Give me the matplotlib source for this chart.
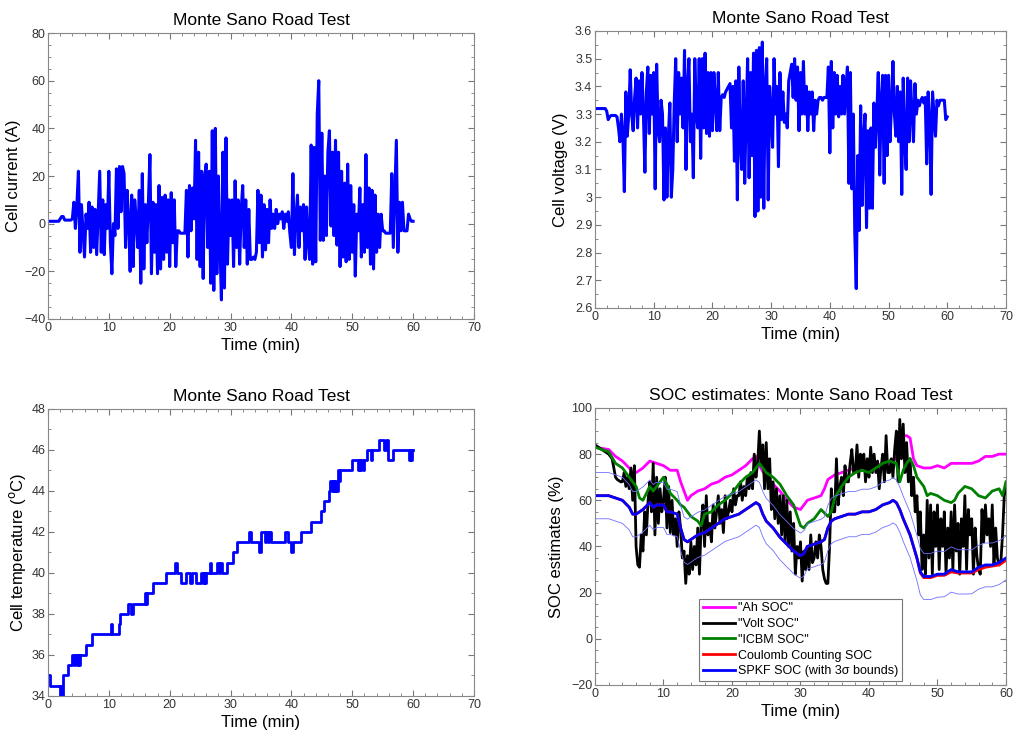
import numpy as np
import matplotlib
matplotlib.use("Agg")
import matplotlib.pyplot as plt
from matplotlib.ticker import MultipleLocator

plt.rcParams['font.family'] = ['Liberation Sans', 'DejaVu Sans']

# cell current (A), sampled every 0.25 min from 0 to 60
current = [1, 1, 1, 1, 1, 1, 1, 1, 2, 3, 3, 1.5, 1.5, 1.5, 1.5, 1.5,
           2, 9, -2, 8, 22, -12, 8, -3, -14, 4, -2, 9, -12, 7, -10, 6,
           -13, 5, 22, -12, 10, -13, 8, -2, 22, -8, -21, 0, -5, 23, -2, 24,
           5, 24, 21, -10, 14, 2, -20, 12, -18, 10, 2, -10, 14, -25, 21, -19,
           8, -8, 9, 29, -21, 9, -12, 8, -21, 16, -19, 11, -15, 12, -12, 10,
           -18, 13, -8, 10, -18, -3, -3, -4, -4, -4, -4, 14, -14, 16, -3, 15,
           2, 35, -15, 30, -18, 22, -23, 20, 25, -10, 22, -25, 39, -28, 40, -21,
           20, -8, -32, 30, -27, 36, -17, 10, -5, 10, -18, 18, -10, 10, -17, 6,
           16, -10, 10, -17, 6, -15, -15, -14, -15, -12, 14, -8, 12, -14, 8, -11,
           6, -8, 10, -2, 4, -2, 6, 0, 4, 2, 5, -2, 4, 1, 5, -4,
           -10, 21, -13, 2, 12, -10, 7, -3, 8, -15, 7, -8, -15, 33, -17, 32,
           -16, 46, 60, -7, 38, -7, 20, -5, 30, 39, -1, 30, -5, 35, -9, 30,
           -18, 22, -14, 17, -16, 25, -15, 16, -12, 8, -22, 4, -3, 15, -14, 8,
           -12, 29, -10, 15, -17, 14, -19, 12, -12, 4, -10, 4, -3, -3, -4, -4,
           -4, -4, 21, -10, 12, 35, -12, 9, -3, 9, -3, -3, -3, 4, 2, 1, 1]

# cell voltage (V), same sampling
voltage = [3.32, 3.32, 3.32, 3.32, 3.32, 3.32, 3.32, 3.32, 3.31, 3.28, 3.29, 3.295, 3.295, 3.295, 3.295, 3.29,
           3.25, 3.2, 3.3, 3.22, 3.02, 3.38, 3.22, 3.3, 3.46, 3.3, 3.24, 3.36, 3.43, 3.25, 3.42, 3.3,
           3.45, 3.3, 3.09, 3.38, 3.47, 3.23, 3.44, 3.3, 3.45, 3.03, 3.48, 3.25, 3.2, 3.35, 3.3, 2.99,
           3.25, 3.0, 3.22, 3.34, 3.0, 3.1, 3.34, 3.5, 3.2, 3.45, 3.3, 3.43, 3.25, 3.53, 3.1, 3.4,
           3.5, 3.2, 3.3, 3.07, 3.5, 3.3, 3.25, 3.5, 3.14, 3.5, 3.25, 3.52, 3.23, 3.45, 3.22, 3.45,
           3.24, 3.45, 3.35, 3.24, 3.45, 3.24, 3.36, 3.37, 3.36, 3.38, 3.39, 3.4, 3.41, 3.25, 3.4, 3.13,
           3.42, 2.99, 3.47, 3.2, 3.1, 3.42, 3.05, 3.3, 3.5, 3.07, 3.45, 3.15, 3.52, 2.93, 3.53, 2.95,
           3.54, 3.0, 3.56, 2.96, 3.4, 3.5, 2.99, 3.4, 3.3, 3.18, 3.5, 3.3, 3.4, 3.11, 3.45, 3.28,
           3.38, 3.27, 3.3, 3.25, 3.42, 3.45, 3.48, 3.36, 3.5, 3.35, 3.47, 3.24, 3.45, 3.3, 3.49, 3.3,
           3.4, 3.24, 3.38, 3.3, 3.38, 3.24, 3.35, 3.3, 3.35, 3.36, 3.36, 3.35, 3.36, 3.36, 3.36, 3.47,
           3.16, 3.49, 3.25, 3.45, 3.3, 3.44, 3.29, 3.4, 3.3, 3.44, 3.3, 3.4, 3.47, 3.05, 3.45, 3.03,
           3.3, 2.87, 2.67, 3.15, 2.88, 3.33, 2.97, 3.22, 3.3, 2.89, 3.24, 2.96, 3.25, 2.96, 3.34, 3.18,
           3.3, 3.45, 3.08, 3.35, 3.44, 3.05, 3.44, 3.15, 3.44, 3.2, 3.33, 3.49, 3.3, 3.22, 3.4, 3.2,
           3.38, 3.01, 3.43, 3.2, 3.10, 3.43, 3.2, 3.42, 3.3, 3.2, 3.41, 3.3, 3.35, 3.33, 3.35, 3.36,
           3.34, 3.36, 3.12, 3.38, 3.28, 3.01, 3.38, 3.3, 3.22, 3.35, 3.33, 3.35, 3.35, 3.35, 3.35, 3.28, 3.29]

# cell temperature (degC), step changes
temp_t = [0, 0.3, 2.0, 2.1, 2.2, 2.5, 3.3, 4.0, 4.2, 4.5, 4.7, 4.9, 5.1, 5.3, 6.2, 7.2,
          10.3, 10.5, 11.6, 11.9, 13.1, 13.7, 13.9, 15.9, 16.1, 16.3, 17.2, 19.4, 20.9, 21.2,
          21.9, 22.6, 23.4, 23.6, 24.3, 25.2, 25.4, 25.6, 25.8, 26.0, 26.6, 26.8, 27.8, 28.1,
          28.3, 28.6, 29.5, 30.4, 31.1, 33.0, 33.4, 34.7, 35.0, 35.6, 35.9, 36.1, 36.4, 36.7,
          39.0, 39.4, 40.0, 40.3, 41.5, 43.3, 44.8, 45.4, 46.2, 46.4, 46.6, 46.8, 47.0, 47.2,
          47.4, 47.6, 47.8, 48.0, 50.0, 50.9, 51.1, 51.3, 51.5, 51.8, 52.0, 52.4, 53.1, 53.3,
          54.4, 55.3, 55.5, 55.8, 56.7, 59.4, 59.5, 59.7, 59.8, 60.0]
temp = [35, 34.5, 34, 34.5, 34, 35, 35.5, 36, 35.5, 36, 35.5, 36, 35.5, 36, 36.5, 37,
        37.5, 37, 37.5, 38, 38.5, 38, 38.5, 39, 38.5, 39, 39.5, 40, 40.5, 40,
        39.5, 40, 39.5, 40, 39.5, 40, 39.5, 40, 39.5, 40, 40.5, 40, 40.5, 40,
        40.5, 40, 40.5, 41, 41.5, 42, 41.5, 41, 42, 41.5, 42, 41.5, 42, 41.5,
        42, 41.5, 41, 41.5, 42, 42.5, 43, 43.5, 44, 44.5, 44, 44.5, 44, 44.5,
        44, 45, 44.5, 45, 45.5, 45, 45.5, 45, 45.5, 45, 45.5, 46, 45.5, 46,
        46.5, 46, 46.5, 45.5, 46, 45.5, 46, 45.5, 46, 46]

# SOC estimates (%)
ah_t = [0, 2, 3, 4, 5, 5.5, 6, 7, 8, 9, 10, 10.5, 11, 12, 12.5, 13, 13.5, 14, 15, 16,
        17, 18, 19, 20, 21, 22, 23, 23.5, 24, 25, 26, 27, 28, 29, 30, 30.5, 31, 32, 33, 33.5,
        34, 35, 36, 37, 38, 39, 40, 41, 42, 43, 44, 44.5, 45, 45.5, 46, 46.5, 47, 48, 49, 50,
        51, 52, 53, 54, 55, 56, 57, 58, 59, 60]
ah_soc = [83, 82, 79, 77, 74, 72, 72, 74, 77, 76, 75, 74, 73, 73, 68, 64, 60, 62, 64, 65,
          67, 68, 70, 71, 73, 75, 78, 79, 75, 70, 67, 64, 60, 57, 56, 58, 60, 61, 62, 65,
          69, 71, 72, 73, 74, 74, 74, 75, 76, 77, 78, 85, 88, 88, 87, 78, 75, 74, 74, 75,
          74, 76, 76, 76, 76, 77, 79, 79, 80, 80]

# "Volt SOC", sampled every 0.25 min
volt_soc = [84, 83.5, 83, 82.5, 82, 81.5, 81, 80.5, 80, 79, 78, 74, 70, 69, 68.5, 68,
            68, 72, 66, 70, 65, 74, 60, 75, 40, 32, 31, 45, 38, 55, 45, 60,
            68, 55, 76, 45, 70, 50, 65, 55, 60, 70, 48, 66, 46, 60, 45, 52,
            40, 55, 48, 35, 38, 24, 36, 28, 42, 30, 40, 32, 48, 28, 50, 58,
            40, 62, 45, 50, 42, 58, 48, 55, 62, 50, 56, 46, 62, 52, 55, 60,
            55, 65, 58, 62, 62, 68, 60, 66, 62, 70, 65, 72, 65, 80, 70, 76,
            90, 75, 84, 65, 85, 65, 78, 56, 68, 52, 65, 50, 62, 45, 62, 42,
            60, 40, 55, 38, 50, 28, 40, 35, 42, 25, 38, 30, 40, 30, 45, 33,
            35, 42, 35, 45, 40, 30, 26, 24, 24, 40, 65, 55, 55, 78, 58, 66,
            70, 62, 75, 68, 68, 76, 82, 72, 72, 84, 70, 80, 74, 80, 68, 78,
            70, 83, 72, 80, 72, 77, 65, 74, 80, 68, 88, 72, 72, 78, 70, 82,
            90, 68, 95, 78, 93, 72, 85, 68, 78, 62, 70, 55, 62, 45, 55, 30,
            45, 28, 60, 35, 58, 28, 55, 40, 58, 30, 52, 40, 55, 28, 48, 35,
            55, 30, 58, 38, 50, 28, 52, 40, 62, 30, 56, 45, 52, 28, 48, 36,
            30, 28, 56, 42, 58, 45, 52, 40, 58, 32, 48, 35, 32, 33, 45, 62, 65]

icbm_t = [0, 1, 2, 3, 4, 5, 6, 6.5, 7, 7.5, 8, 8.5, 9, 9.5, 10, 10.5, 11, 12, 12.5, 13,
          13.5, 14, 15, 15.5, 16, 17, 18, 19, 20, 21, 22, 23, 24, 24.5, 25, 26, 27, 28, 29, 30,
          30.5, 31, 32, 33, 34, 34.5, 35, 36, 37, 38, 39, 40, 41, 42, 43, 44, 44.5, 45, 45.5, 46,
          46.5, 47, 48, 48.5, 49, 50, 51, 52, 52.5, 53, 54, 55, 56, 57, 58, 59, 59.5, 60]
icbm_soc = [83, 82, 81, 76, 74, 70, 66, 61, 60, 63, 66, 64, 66, 68, 70, 67, 63, 60, 58, 57,
            55, 53, 51, 49, 54, 55, 58, 60, 63, 67, 70, 72, 76, 74, 72, 70, 67, 62, 58, 49,
            48, 50, 52, 56, 53, 55, 61, 66, 70, 72, 73, 72, 74, 76, 77, 76, 68, 73, 76, 78,
            75, 70, 66, 62, 63, 62, 60, 59, 60, 63, 66, 65, 62, 61, 64, 65, 62, 68]

spkf_t = [0, 2, 3, 4, 5, 5.5, 6, 7, 8, 8.5, 9, 10, 10.5, 11, 12, 12.5, 13, 13.5, 14, 15,
          16, 17, 18, 19, 20, 21, 22, 23, 23.5, 24, 24.5, 25, 26, 27, 28, 29, 30, 30.5, 31, 32,
          33, 33.5, 34, 34.5, 35, 36, 37, 38, 39, 40, 41, 42, 43, 43.5, 44, 44.5, 45, 46, 46.5, 47,
          47.5, 48, 49, 50, 51, 52, 53, 54, 55, 56, 57, 58, 59, 60]
spkf_soc = [62, 62, 61, 60, 57, 54, 54, 56, 59, 57, 58, 58, 55, 55, 54, 48, 43, 42, 43, 45,
            46, 48, 50, 52, 53, 54, 56, 58, 59, 58, 54, 51, 48, 44, 41, 38, 36, 37, 40, 41,
            42, 43, 48, 51, 52, 53, 54, 54, 55, 55, 56, 58, 59, 60, 59, 56, 52, 45, 40, 35,
            29, 27, 27, 28, 28, 30, 29, 29, 29, 31, 32, 32, 33, 35]
coulomb_soc = [62, 62, 61, 60, 57, 54, 54, 56, 59, 57, 58, 58, 55, 55, 54, 48, 43, 42, 43, 45,
               46, 48, 50, 52, 53, 54, 56, 58, 59, 58, 54, 51, 48, 44, 41, 38, 36, 37, 40, 41,
               42, 43, 48, 51, 52, 53, 54, 54, 55, 55, 56, 58, 59, 60, 59, 56, 52, 45, 40, 35,
               28.5, 26.5, 26.5, 27.5, 27.5, 29, 28.5, 28.5, 28.5, 30, 31, 31.5, 32, 34]
spkf_3sigma = [10, 10, 10, 10, 9.8, 9.8, 9.8, 9.8, 9.8, 9.8, 9.8, 9.8, 9.8, 9.8, 9.8, 9.8, 9.8, 9.8, 9.8, 9.8,
               9.8, 9.8, 9.8, 9.8, 9.8, 9.8, 9.8, 9.8, 9.8, 9.8, 9.8, 9.8, 9.8, 9.8, 9.8, 9.8, 9.8, 9.8, 9.8, 9.8,
               9.8, 9.8, 9.8, 9.8, 9.8, 9.8, 9.8, 9.8, 9.8, 9.8, 9.8, 9.8, 9.8, 9.8, 9.8, 9.8, 9.8, 9.8, 9.8, 9.8,
               10, 10, 10, 10, 9.8, 9.8, 9.6, 9.6, 9.5, 9.5, 9.5, 9.5, 9.5, 9.5]

t_fast = np.arange(len(current)) * 0.25
title = "Monte Sano Road Test"


def style(ax, xmax, ymin, ymax, ymaj, ymin_step):
    ax.set_xlim(0, xmax)
    ax.set_ylim(ymin, ymax)
    ax.xaxis.set_major_locator(MultipleLocator(10))
    ax.xaxis.set_minor_locator(MultipleLocator(2))
    ax.yaxis.set_major_locator(MultipleLocator(ymaj))
    ax.yaxis.set_minor_locator(MultipleLocator(ymin_step))
    ax.tick_params(which='both', direction='in', top=True, right=True,
                   color='#777777', labelsize=9, labelcolor='#333333', pad=2)
    ax.tick_params(which='major', length=4)
    ax.tick_params(which='minor', length=2)
    for s in ax.spines.values():
        s.set_color('#888888')
        s.set_linewidth(0.8)
    ax.set_xlabel("Time (min)", fontsize=12, labelpad=3)


fig = plt.figure(figsize=(10.19, 7.34), dpi=100)

ax1 = fig.add_axes([0.0471, 0.5654, 0.418, 0.3896])
ax1.plot(t_fast, current, color='blue', lw=2.2)
style(ax1, 70, -40, 80, 20, 5)
ax1.set_ylabel("Cell current (A)", fontsize=12, labelpad=2)
ax1.set_title(title, fontsize=12.5, pad=6)

ax2 = fig.add_axes([0.5839, 0.5804, 0.4033, 0.3774])
ax2.plot(t_fast, voltage, color='blue', lw=2.2)
style(ax2, 70, 2.6, 3.6, 0.1, 0.05)
ax2.yaxis.set_major_formatter(matplotlib.ticker.FuncFormatter(lambda v, p: f"{v:g}"))
ax2.set_ylabel("Cell voltage (V)", fontsize=12, labelpad=5)
ax2.set_title(title, fontsize=12.5, pad=6)

ax3 = fig.add_axes([0.0471, 0.0518, 0.418, 0.391])
ax3.step(temp_t, temp, where='post', color='blue', lw=2)
style(ax3, 70, 34, 48, 2, 1)
ax3.set_ylabel("Cell temperature ($^{\\rm o}$C)", fontsize=12, labelpad=2)
ax3.set_title(title, fontsize=12.5, pad=6)

ax4 = fig.add_axes([0.5839, 0.0668, 0.4033, 0.3774])
ax4.plot(ah_t, ah_soc, color='magenta', lw=2, label='"Ah SOC"')
ax4.plot(t_fast, volt_soc, color='black', lw=2, label='"Volt SOC"')
ax4.plot(icbm_t, icbm_soc, color='green', lw=2, label='"ICBM SOC"')
ax4.plot(spkf_t, coulomb_soc, color='red', lw=2, label='Coulomb Counting SOC')
ax4.plot(spkf_t, spkf_soc, color='blue', lw=2, label='SPKF SOC (with 3σ bounds)')
upper = np.array(spkf_soc) + np.array(spkf_3sigma)
lower = np.array(spkf_soc) - np.array(spkf_3sigma)
ax4.plot(spkf_t, upper, color='#6f6fff', lw=0.6)
ax4.plot(spkf_t, lower, color='#6f6fff', lw=0.6)
style(ax4, 60, -20, 100, 20, 5)
ax4.set_ylabel("SOC estimates (%)", fontsize=12, labelpad=5)
ax4.set_title("SOC estimates: Monte Sano Road Test", fontsize=12.5, pad=6)
leg = ax4.legend(loc='lower center', bbox_to_anchor=(0.5, 0.005), fontsize=9,
                 handlelength=2.6, handletextpad=0.2, labelspacing=0.3,
                 borderpad=0.3, fancybox=False, framealpha=1, borderaxespad=0.2)
leg.get_frame().set_edgecolor('#777777')
leg.get_frame().set_linewidth(0.8)

fig.savefig("out.png", dpi=100)
